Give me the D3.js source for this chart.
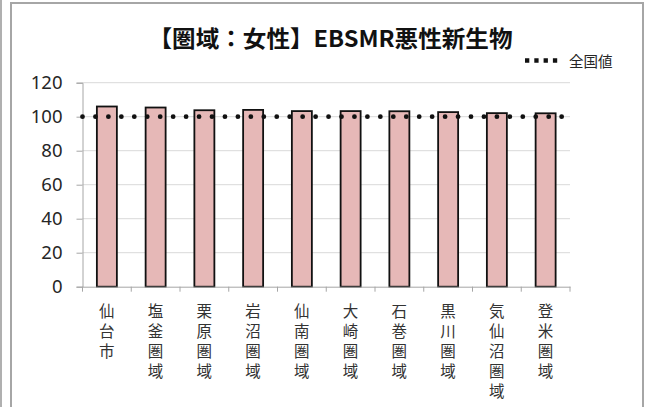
<!DOCTYPE html>
<html><head><meta charset="utf-8">
<script src="https://cdn.jsdelivr.net/npm/d3@7"></script>
<style>body{margin:0;background:#fff}svg{display:block}</style>
</head><body><svg id="c" width="647" height="407"></svg>
<script>
const categories = ["仙台市","塩釜圏域","栗原圏域","岩沼圏域","仙南圏域","大崎圏域","石巻圏域","黒川圏域","気仙沼圏域","登米圏域"];
const values = [106.0, 105.4, 103.8, 104.0, 103.3, 103.3, 103.2, 102.7, 102.1, 102.0];
const nationalValue = 100;
const yTicks = [0, 20, 40, 60, 80, 100, 120];
const titleText = "【圏域：女性】EBSMR悪性新生物";
const legendText = "全国値";

(function () {
const svg = d3.select("#c");
const pL = 82.5, pR = 570, pT = 82.7, pB = 286.7;
const x = d3.scaleBand().domain(categories).range([pL, pR]).padding(0);
const y = d3.scaleLinear().domain([0, 120]).range([pB, pT]);

// frame
svg.append("rect").attr("x", 11).attr("y", 3).attr("width", 632).attr("height", 420)
  .attr("fill", "#fff").attr("stroke", "#a6a6a6").attr("stroke-width", 2);
svg.append("line").attr("x1", 1).attr("x2", 1).attr("y1", 0).attr("y2", 407)
  .attr("stroke", "#b0b0b0").attr("stroke-width", 2);

// gridlines
svg.append("g").selectAll("line").data(yTicks.filter(d => d > 0)).join("line")
  .attr("x1", pL).attr("x2", pR).attr("y1", d => y(d)).attr("y2", d => y(d))
  .attr("stroke", "#d9d9d9").attr("stroke-width", 1);

// y axis
const ya = svg.append("g").attr("transform", `translate(${pL},0)`)
  .call(d3.axisLeft(y).tickValues(yTicks).tickSize(6).tickPadding(14));
ya.select(".domain").attr("stroke", "#a6a6a6");
ya.selectAll(".tick line").attr("stroke", "#a6a6a6");
ya.selectAll(".tick text").attr("font-family", "'Noto Sans', sans-serif").attr("font-size", 18.5).attr("fill", "#262626");

// bars
const bw = 20;
svg.append("g").selectAll("rect").data(values).join("rect")
  .attr("x", (d, i) => x(categories[i]) + x.bandwidth() / 2 - bw / 2)
  .attr("y", d => y(d)).attr("width", bw).attr("height", d => y(0) - y(d))
  .attr("fill", "#e6b8b7").attr("stroke", "#111").attr("stroke-width", 1.8);

// x axis
const xa = svg.append("g").attr("transform", `translate(0,${pB})`)
  .call(d3.axisBottom(x).tickSize(0).tickFormat(""));
xa.select(".domain").attr("stroke", "#a6a6a6");
const xt = [pL, ...categories.map(c => x(c) + x.bandwidth())];
svg.append("g").selectAll("line").data(xt).join("line")
  .attr("x1", d => d).attr("x2", d => d).attr("y1", pB).attr("y2", pB + 5)
  .attr("stroke", "#a6a6a6");

// vertical category labels
const lab = svg.append("g").selectAll("text").data(categories).join("text")
  .attr("font-family", "'Noto Sans CJK JP', sans-serif").attr("font-size", 15.5)
  .attr("fill", "#333").attr("text-anchor", "middle");
lab.each(function (c) {
  const t = d3.select(this);
  [...c].forEach((ch, k) => {
    t.append("tspan").attr("x", x(c) + x.bandwidth() / 2).attr("y", 317 + k * 20).text(ch);
  });
});

// national value dotted line
svg.append("line").attr("x1", pL).attr("x2", pR - 4)
  .attr("y1", y(nationalValue)).attr("y2", y(nationalValue))
  .attr("stroke", "#111").attr("stroke-width", 4.8).attr("stroke-linecap", "round")
  .attr("stroke-dasharray", "0 12.95");

// title
svg.append("text").attr("x", 330.5).attr("y", 46.5).attr("text-anchor", "middle")
  .attr("font-family", "'Noto Sans CJK JP', sans-serif").attr("font-weight", "bold")
  .attr("font-size", 23).attr("fill", "#111").attr("textLength", 364).attr("lengthAdjust", "spacingAndGlyphs")
  .text(titleText);

// legend
svg.append("line").attr("x1", 525).attr("x2", 562).attr("y1", 60.5).attr("y2", 60.5)
  .attr("stroke", "#111").attr("stroke-width", 4.3).attr("stroke-dasharray", "4.3 5");
svg.append("text").attr("x", 569).attr("y", 66.5)
  .attr("font-family", "'Noto Sans CJK JP', sans-serif").attr("font-size", 14.5).attr("fill", "#262626")
  .text(legendText);
})();
</script></body></html>
